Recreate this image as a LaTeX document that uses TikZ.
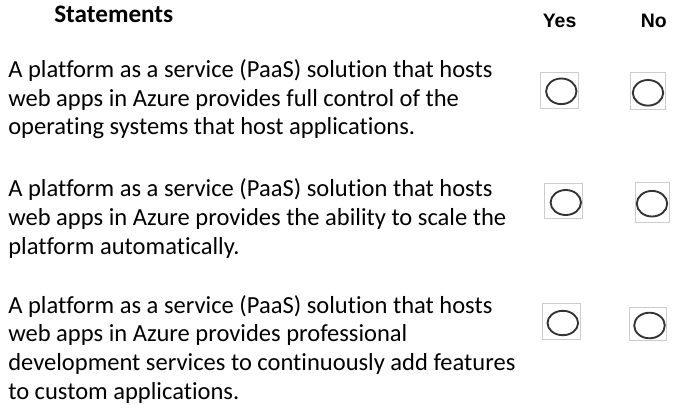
\documentclass[tikz,border=0pt]{standalone}
\usepackage{fontspec}
\setmainfont{Carlito}[Ligatures={NoCommon}]
\newfontfamily\arialfont{Liberation Sans}
\begin{document}
\begin{tikzpicture}[x=0.75pt,y=-0.75pt,
  txt/.style={anchor=base west,inner sep=0pt,font=\fontsize{18.4}{22}\selectfont,text=black},
  head/.style={anchor=base west,inner sep=0pt,font=\fontsize{18.9}{22}\selectfont\bfseries},
  yn/.style={anchor=base west,inner sep=0pt,font=\arialfont\bfseries\fontsize{14.6}{17}\selectfont},
  optbox/.style={draw=black!20,line width=0.75pt},
  opt/.style={draw=black!80,line width=1.4pt}]
\useasboundingbox[fill=white] (0,0) rectangle (686,415);
% headings
\node[head] (hstat) at (54,22) {Statements};
\node[yn] (hyes) at (542.5,27) {Yes};
\node[yn] (hno) at (640.5,27) {No};
% statement 1
\node[txt] (s1a) at (8,77.5) {A platform as a service (PaaS) solution that hosts};
\node[txt] (s1b) at (8,106.2) {web apps in Azure provides full control of the};
\node[txt] (s1c) at (8,134.9) {operating systems that host applications.};
% statement 2
\node[txt] (s2a) at (8,196.8) {A platform as a service (PaaS) solution that hosts};
\node[txt] (s2b) at (8,225.5) {web apps in Azure provides the ability to scale the};
\node[txt] (s2c) at (8,254.2) {platform automatically.};
% statement 3
\node[txt] (s3a) at (8,313) {A platform as a service (PaaS) solution that hosts};
\node[txt] (s3b) at (8,341.7) {web apps in Azure provides professional};
\node[txt] (s3c) at (8,370.4) {development services to continuously add features};
\node[txt] (s3d) at (8,399.1) {to custom applications.};
% option boxes
\draw[optbox] (540.3,72.3) rectangle (578.7,108.3);
\draw[opt] (561.3,91.3) ellipse [x radius=15.2, y radius=12.8];
\draw[optbox] (630.3,72.3) rectangle (665.3,109.3);
\draw[opt] (648,92.8) ellipse [x radius=15.2, y radius=12.8];
\draw[optbox] (544,183.3) rectangle (582.7,218.3);
\draw[opt] (565.8,202.5) ellipse [x radius=15.2, y radius=12.5];
\draw[optbox] (635.3,182.3) rectangle (669.3,222.3);
\draw[opt] (652,203.7) ellipse [x radius=15.2, y radius=12.8];
\draw[optbox] (542.3,303.3) rectangle (580.7,339.3);
\draw[opt] (562.8,323) ellipse [x radius=15.3, y radius=12.2];
\draw[optbox] (629.3,307.3) rectangle (666.7,340);
\draw[opt] (649.5,325.5) ellipse [x radius=15.3, y radius=12.8];
\end{tikzpicture}
\end{document}
